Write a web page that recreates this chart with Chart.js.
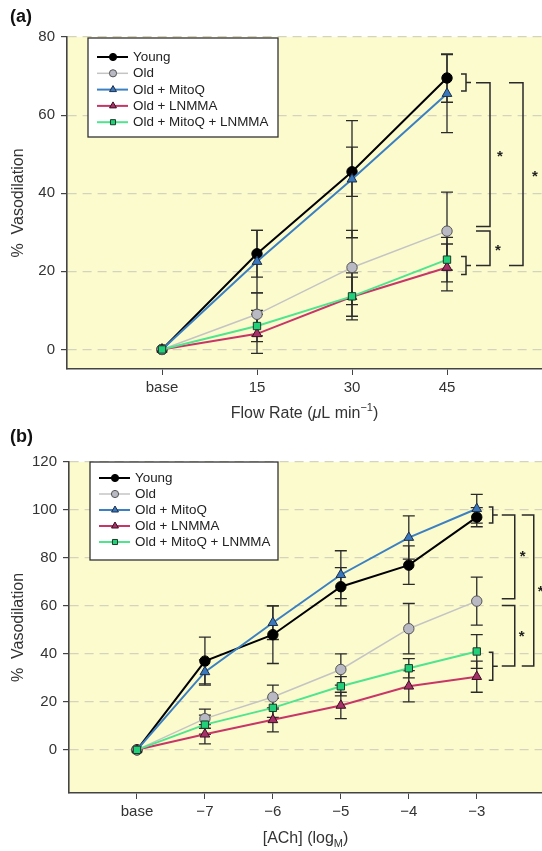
<!DOCTYPE html>
<html><head><meta charset="utf-8">
<script src="https://cdn.jsdelivr.net/npm/chart.js@4"></script>
<style>
html,body{margin:0;padding:0;background:#fff;width:542px;height:851px;overflow:hidden}
canvas{position:absolute;left:0;display:block}
</style></head><body>
<canvas id="ca" width="542" height="425" style="top:0;width:542px;height:425px"></canvas>
<canvas id="cb" width="542" height="426" style="top:425px;width:542px;height:426px"></canvas>
<script>
// ---------- DATA ----------
const seriesNames = ['Young', 'Old', 'Old + MitoQ', 'Old + LNMMA', 'Old + MitoQ + LNMMA'];

// Panel (a): flow-mediated
const flowLabels = ['base', '15', '30', '45'];
const youngA = [0, 24.5, 45.5, 69.5];
const oldA   = [0, 9, 21, 30.3];
const mitoA  = [0, 22.5, 43.6, 65.5];
const lnmmaA = [0, 4, 13.5, 21];
const comboA = [0, 6, 13.6, 23];
const youngErrA = [0, 6, 6.3, 6.2];
const oldErrA   = [0, 5.5, 9.5, 10];
const mitoErrA  = [0, 8, 15, 10];
const lnmmaErrA = [0, 5, 5, 6];
const comboErrA = [0, 4, 6, 5.7];
const yTicksA = [0, 20, 40, 60, 80];

// Panel (b): acetylcholine
const achLabels = ['base', '\u22127', '\u22126', '\u22125', '\u22124', '\u22123'];
const youngB = [0, 37, 48, 68, 77, 97];
const oldB   = [0, 13, 22, 33.5, 50.5, 62];
const mitoB  = [0, 32.5, 53, 73, 88.5, 100.5];
const lnmmaB = [0, 6.5, 12.5, 18.5, 26.5, 30.5];
const comboB = [0, 10.5, 17.5, 26.5, 34, 41];
const youngErrB = [0, 10, 12, 8, 8, 4];
const oldErrB   = [0, 4, 5, 6.5, 10.5, 10];
const mitoErrB  = [0, 5, 7, 10, 9, 6];
const lnmmaErrB = [0, 4, 5, 5.5, 6.5, 6.5];
const comboErrB = [0, 4, 4, 4, 4, 7];
const yTicksB = [0, 20, 40, 60, 80, 100, 120];

// ---------- STYLES ----------
const FONT = "'Liberation Sans', Arial, sans-serif";
const styles = [
  {line: '#000000', fill: '#000000', edge: '#000000', shape: 'circle',   lw: 2,   r: 5.2},
  {line: '#c4c4c4', fill: '#b9b9c3', edge: '#555555', shape: 'circle',   lw: 1.5, r: 5.2},
  {line: '#3b80c2', fill: '#3a78bd', edge: '#1d2f4a', shape: 'triangle', lw: 2,   r: 5.6},
  {line: '#c83668', fill: '#a63068', edge: '#3a1022', shape: 'triangle', lw: 2,   r: 5.6},
  {line: '#4fe48e', fill: '#22d07a', edge: '#1b3a28', shape: 'rect',     lw: 2,   r: 5.2}
];
const drawOrder = [5, 4, 3, 2, 1];

const bgPlugin = {
  id: 'bg',
  beforeDraw(chart) {
    const {ctx, chartArea: a} = chart;
    ctx.save();
    ctx.fillStyle = '#fcfbcd';
    ctx.fillRect(a.left, a.top, a.right - a.left, a.bottom - a.top);
    ctx.restore();
  }
};

const errPlugin = {
  id: 'err',
  beforeDatasetsDraw(chart) {
    const {ctx} = chart;
    const ys = chart.scales.y;
    const errs = chart.options.plugins.err.errors;
    ctx.save();
    ctx.strokeStyle = '#2a2a2a';
    ctx.lineWidth = 1.3;
    chart.data.datasets.forEach((ds, i) => {
      const meta = chart.getDatasetMeta(i);
      ds.data.forEach((p, j) => {
        const e = errs[i][j];
        if (!e) return;
        const x = meta.data[j].x;
        const y1 = ys.getPixelForValue(p.y + e);
        const y2 = ys.getPixelForValue(p.y - e);
        ctx.beginPath();
        ctx.moveTo(x, y1); ctx.lineTo(x, y2);
        ctx.moveTo(x - 6, y1); ctx.lineTo(x + 6, y1);
        ctx.moveTo(x - 6, y2); ctx.lineTo(x + 6, y2);
        ctx.stroke();
      });
    });
    ctx.restore();
  }
};

function drawRich(ctx, parts, cx, cy, size) {
  const fontFor = (p) => (p.italic ? 'italic ' : '') + (p.sup || p.sub ? Math.round(size * 0.7) : size) + 'px ' + FONT;
  let total = 0;
  parts.forEach(p => { ctx.font = fontFor(p); total += ctx.measureText(p.t).width; });
  let x = cx - total / 2;
  ctx.textAlign = 'left';
  ctx.textBaseline = 'middle';
  parts.forEach(p => {
    ctx.font = fontFor(p);
    let y = cy;
    if (p.sup) y = cy - size * 0.35;
    if (p.sub) y = cy + size * 0.3;
    ctx.fillText(p.t, x, y);
    x += ctx.measureText(p.t).width;
  });
}

const decoPlugin = {
  id: 'deco',
  afterDraw(chart) {
    const {ctx, chartArea: a} = chart;
    const o = chart.options.plugins.deco;
    const xs = chart.scales.x, ys = chart.scales.y;
    ctx.save();
    // panel letter
    ctx.fillStyle = '#111';
    ctx.font = 'bold 18px ' + FONT;
    ctx.textAlign = 'left';
    ctx.textBaseline = 'middle';
    ctx.fillText(o.panel, 10, o.panelY);
    // x title
    ctx.fillStyle = '#333';
    drawRich(ctx, o.xTitle, (a.left + a.right) / 2, a.bottom + o.xTitleOff, 16);

    // legend
    const L = o.legend;
    const bx = a.left + L.dx, by = a.top + L.dy;
    ctx.fillStyle = '#ffffff';
    ctx.fillRect(bx, by, L.w, L.h);
    ctx.strokeStyle = '#333';
    ctx.lineWidth = 1.3;
    ctx.strokeRect(bx, by, L.w, L.h);
    chart.data.datasets.forEach((ds, i) => {
      const st = styles[i];
      const yy = by + L.first + i * L.step;
      ctx.strokeStyle = st.line;
      ctx.lineWidth = st.lw;
      ctx.beginPath();
      ctx.moveTo(bx + 9, yy); ctx.lineTo(bx + 40, yy);
      ctx.stroke();
      ctx.fillStyle = st.fill;
      ctx.strokeStyle = st.edge;
      ctx.lineWidth = 1;
      Chart.helpers.drawPoint(ctx, {pointStyle: st.shape, radius: st.shape === 'triangle' ? 4 : 3.6, rotation: 0, borderWidth: 1}, bx + 25, yy);
      ctx.fillStyle = '#222';
      ctx.font = '13.4px ' + FONT;
      ctx.textAlign = 'left';
      ctx.textBaseline = 'middle';
      ctx.fillText(ds.label, bx + 45, yy + 0.5);
    });

    // significance brackets
    const B = o.brackets;
    const x0 = xs.getPixelForValue(B.at);
    const Y = v => ys.getPixelForValue(v);
    ctx.strokeStyle = '#2a2a2a';
    ctx.lineWidth = 1.5;
    const small = (lo, hi) => {
      const t = Y(hi), b = Y(lo), m = (t + b) / 2;
      ctx.beginPath();
      ctx.moveTo(x0 + B.sb0, t); ctx.lineTo(x0 + B.sb1, t); ctx.lineTo(x0 + B.sb1, b); ctx.lineTo(x0 + B.sb0, b);
      ctx.moveTo(x0 + B.sb1, m); ctx.lineTo(x0 + B.sb1 + 5, m);
      ctx.stroke();
    };
    small(B.top[0], B.top[1]);
    small(B.bot[0], B.bot[1]);
    const bracket = (vx, sx, hi, lo) => {
      ctx.beginPath();
      ctx.moveTo(x0 + sx, Y(hi)); ctx.lineTo(x0 + vx, Y(hi)); ctx.lineTo(x0 + vx, Y(lo)); ctx.lineTo(x0 + sx, Y(lo));
      ctx.stroke();
    };
    bracket(B.v1, B.s1, B.b1[0], B.b1[1]);
    bracket(B.v1, B.s1, B.b2[0], B.b2[1]);
    bracket(B.v2, B.s2, B.big[0], B.big[1]);
    ctx.fillStyle = '#222';
    ctx.font = 'bold 15px ' + FONT;
    ctx.textAlign = 'center';
    ctx.textBaseline = 'middle';
    B.stars.forEach(s => ctx.fillText('*', x0 + s[0], Y(s[1]) + 3));
    ctx.restore();
  }
};

function makeChart(id, labels, series, errs, yTicks, yMin, yMax, xMax, dims, deco) {
  const datasets = series.map((vals, i) => ({
    label: seriesNames[i],
    data: labels.map((_, j) => ({x: j, y: vals[j]})),
    borderColor: styles[i].line,
    borderWidth: styles[i].lw,
    pointStyle: styles[i].shape,
    pointRadius: styles[i].r,
    pointBackgroundColor: styles[i].fill,
    pointBorderColor: styles[i].edge,
    pointBorderWidth: 1,
    tension: 0,
    fill: false,
    order: drawOrder[i]
  }));
  return new Chart(document.getElementById(id), {
    type: 'line',
    data: {datasets},
    options: {
      responsive: false,
      animation: false,
      devicePixelRatio: 1,
      layout: {autoPadding: false, padding: {top: dims.top, right: 0, left: 0, bottom: 0}},
      plugins: {
        legend: {display: false},
        tooltip: {enabled: false},
        err: {errors: errs},
        deco: deco
      },
      scales: {
        x: {
          type: 'linear',
          min: -1, max: xMax,
          afterBuildTicks: s => { s.ticks = labels.map((_, j) => ({value: j})); },
          afterFit: s => { s.height = dims.xh; s.paddingLeft = 0; s.paddingRight = 0; },
          ticks: {
            autoSkip: false, maxRotation: 0, padding: 4,
            color: '#333', font: {family: FONT, size: 15},
            callback: v => labels[v]
          },
          grid: {drawOnChartArea: false, drawTicks: true, tickLength: 6, tickColor: '#444', color: '#444'},
          border: {display: true, color: '#444', width: 1.6}
        },
        y: {
          min: yMin, max: yMax,
          afterBuildTicks: s => { s.ticks = yTicks.map(v => ({value: v})); },
          afterFit: s => { s.width = dims.yw; s.paddingTop = 0; s.paddingBottom = 0; },
          ticks: {padding: 6, color: '#333', font: {family: FONT, size: 15}},
          grid: {color: '#d4d3bd', lineWidth: 1.2, drawTicks: true, tickLength: 6, tickColor: '#444'},
          border: {display: true, color: '#444', width: 1.6, dash: [9, 6]},
          title: {display: true, text: '%  Vasodilation', color: '#333', font: {family: FONT, size: 16}, padding: {top: 9, bottom: 0}}
        }
      }
    },
    plugins: [bgPlugin, errPlugin, decoPlugin]
  });
}

makeChart('ca', flowLabels,
  [youngA, oldA, mitoA, lnmmaA, comboA],
  [youngErrA, oldErrA, mitoErrA, lnmmaErrA, comboErrA],
  yTicksA, -5, 80, 4.0,
  {top: 37, xh: 56, yw: 67},
  {
    panel: '(a)', panelY: 17,
    xTitle: [{t: 'Flow Rate ('}, {t: '\u03bc', italic: true}, {t: 'L min'}, {t: '\u22121', sup: true}, {t: ')'}],
    xTitleOff: 45,
    legend: {dx: 21, dy: 1, w: 190, h: 99, first: 19, step: 16.3},
    brackets: {at: 3, sb0: 14, sb1: 19, top: [66.2, 70.5], bot: [19.2, 23.8],
      v1: 43, s1: 29, b1: [68.3, 31.5], b2: [30.3, 21.5],
      v2: 76, s2: 62, big: [68.3, 21.5],
      stars: [[53, 50], [51, 26], [88, 45]]}
  });

makeChart('cb', achLabels,
  [youngB, oldB, mitoB, lnmmaB, comboB],
  [youngErrB, oldErrB, mitoErrB, lnmmaErrB, comboErrB],
  yTicksB, -18, 120, 5.96,
  {top: 37, xh: 58, yw: 69},
  {
    panel: '(b)', panelY: 12,
    xTitle: [{t: '[ACh] (log'}, {t: 'M', sub: true}, {t: ')'}],
    xTitleOff: 46,
    legend: {dx: 21, dy: 0, w: 188, h: 98, first: 16, step: 16},
    brackets: {at: 5, sb0: 12, sb1: 16, top: [94.6, 101.2], bot: [29, 40.7],
      v1: 38, s1: 25, b1: [97.9, 63], b2: [60.2, 34.9],
      v2: 57, s2: 45, big: [97.9, 34.9],
      stars: [[46, 81.7], [45, 48.5], [64, 67]]}
  });
</script>
</body></html>
